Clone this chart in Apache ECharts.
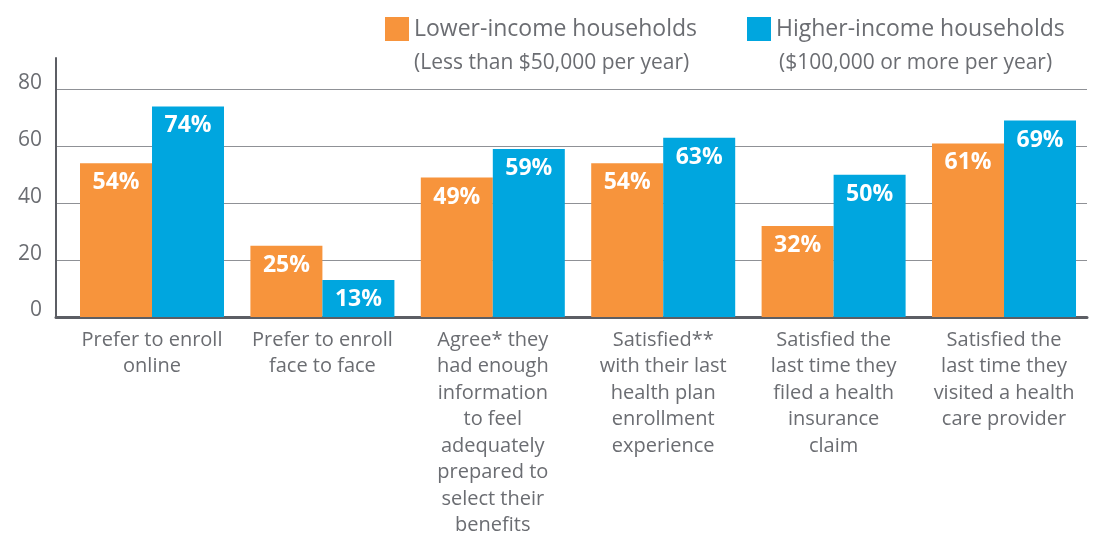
<!DOCTYPE html>
<html>
<head>
<meta charset="utf-8">
<script src="https://cdn.jsdelivr.net/npm/echarts@6/dist/echarts.min.js"></script>
<style>
  html, body { margin: 0; padding: 0; background: #ffffff; }
  #chart { width: 1094px; height: 533px; }
</style>
</head>
<body>
<div id="chart"></div>
<script>
// Survey categories (x axis) and the share of each household group, in percent
const categories = [
  'Prefer to enroll\nonline',
  'Prefer to enroll\nface to face',
  'Agree* they\nhad enough\ninformation\nto feel\nadequately\nprepared to\nselect their\nbenefits',
  'Satisfied**\nwith their last\nhealth plan\nenrollment\nexperience',
  'Satisfied the\nlast time they\nfiled a health\ninsurance\nclaim',
  'Satisfied the\nlast time they\nvisited a health\ncare provider'
];
const lowerIncome = [54, 25, 49, 54, 32, 61];
const higherIncome = [74, 13, 59, 63, 50, 69];
const yTicks = [0, 20, 40, 60, 80];

const seriesNames = ['Lower-income households', 'Higher-income households'];
const seriesNotes = ['(Less than $50,000 per year)', '($100,000 or more per year)'];

const ORANGE = '#F7943C';
const BLUE = '#00A6DF';
const TEXT = '#6b6d72';
const FONT = '"Open Sans", "Liberation Sans", sans-serif';

const chart = echarts.init(document.getElementById('chart'), null, { renderer: 'canvas' });

const barLabel = {
  show: true,
  position: 'insideTop',
  distance: 8,
  color: '#ffffff',
  fontFamily: FONT,
  fontWeight: 'bold',
  fontSize: 23,
  formatter: p => p.value[1] + '%'
};

const noteStyle = { fontFamily: FONT, fontSize: 21, fontWeight: 'normal', color: TEXT };
const legendText = { fontFamily: FONT, fontSize: 23, color: TEXT };

chart.setOption({
  animation: false,
  backgroundColor: '#ffffff',
  textStyle: { fontFamily: FONT },
  title: [
    { text: seriesNotes[0], left: 414, top: 53, padding: 0, textStyle: noteStyle },
    { text: seriesNotes[1], left: 779, top: 53, padding: 0, textStyle: noteStyle }
  ],
  legend: [
    { data: [seriesNames[0]], left: 385, top: 17, padding: 0, icon: 'rect',
      itemWidth: 24, itemHeight: 24, selectedMode: false, textStyle: legendText },
    { data: [seriesNames[1]], left: 747, top: 17, padding: 0, icon: 'rect',
      itemWidth: 24, itemHeight: 24, selectedMode: false, textStyle: legendText }
  ],
  grid: {
    left: 56, right: 7, top: 58, bottom: 216,
    containLabel: false,
    outerBoundsMode: 'none'
  },
  xAxis: {
    type: 'value',
    min: -0.5634,
    max: 5.487,
    axisLine: { show: true, onZero: false, lineStyle: { color: '#5c5e64', width: 3 } },
    axisTick: { show: false },
    splitLine: { show: false },
    axisLabel: {
      customValues: categories.map((_, i) => i),
      formatter: v => categories[Math.round(v)],
      fontFamily: FONT,
      fontSize: 20,
      lineHeight: 26.5,
      color: TEXT,
      margin: 10,
      align: 'center',
      verticalAlign: 'top'
    }
  },
  yAxis: {
    type: 'value',
    min: 0,
    max: 91,
    interval: 20,
    axisLine: { show: true, onZero: false, lineStyle: { color: '#5c5e64', width: 2 } },
    axisTick: { show: false },
    splitLine: {
      show: true,
      showMinLine: false,
      showMaxLine: false,
      lineStyle: { color: '#8f9196', width: 1.2 }
    },
    axisLabel: {
      customValues: yTicks,
      fontFamily: FONT,
      fontSize: 21,
      color: TEXT,
      margin: 14,
      verticalAlign: 'bottom',
      lineHeight: 13
    }
  },
  series: [
    {
      name: seriesNames[0],
      type: 'bar',
      barWidth: 72,
      barGap: '0%',
      itemStyle: { color: ORANGE },
      label: barLabel,
      data: lowerIncome.map((v, i) => [i, v])
    },
    {
      name: seriesNames[1],
      type: 'bar',
      barWidth: 72,
      barGap: '0%',
      itemStyle: { color: BLUE },
      label: barLabel,
      data: higherIncome.map((v, i) => [i, v])
    }
  ]
});
</script>
</body>
</html>
